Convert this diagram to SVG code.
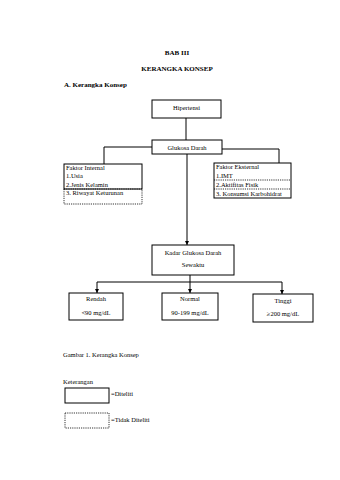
<svg xmlns="http://www.w3.org/2000/svg" width="340" height="480" viewBox="0 0 340 480">
<style>
text{font-family:"Liberation Serif","Times New Roman",serif;fill:#000}
.t{font-size:6.5px}
.c{text-anchor:middle}
.h{font-size:7px;font-weight:bold}
.box{fill:#fff;stroke:#000;stroke-width:1}
.dash{fill:none;stroke:#000;stroke-width:0.8;stroke-dasharray:1.2 1}
.ln{fill:none;stroke:#000;stroke-width:1}
</style>
<defs>
<marker id="ah" viewBox="0 0 6 6" refX="6" refY="3" markerWidth="4" markerHeight="4" orient="auto"><path d="M0,0L6,3L0,6z" fill="#000"/></marker>
</defs>
<rect width="340" height="480" fill="#fff"/>
<text class="h c" x="177" y="55">BAB III</text>
<text class="h c" x="177" y="71">KERANGKA KONSEP</text>
<text class="h" x="64" y="87">A. Kerangka Konsep</text>

<g id="connectors">
<line class="ln" x1="186" y1="118" x2="186" y2="140"/>
<polyline class="ln" points="152,147 104,147 104,164"/>
<polyline class="ln" points="222,149 279,149 279,163"/>
<line class="ln" x1="187" y1="154" x2="187" y2="245" marker-end="url(#ah)"/>
<line class="ln" x1="190" y1="275" x2="190" y2="293" marker-end="url(#ah)"/>
<line class="ln" x1="97" y1="282" x2="282" y2="282"/>
<line class="ln" x1="97" y1="282" x2="97" y2="293" marker-end="url(#ah)"/>
<line class="ln" x1="282" y1="282" x2="282" y2="294" marker-end="url(#ah)"/>
</g>

<g id="hipertensi">
<rect class="box" x="152" y="100" width="69" height="18"/>
<text class="t c" x="186.5" y="110">Hipertensi</text>
</g>
<g id="glukosa">
<rect class="box" x="152" y="140" width="70" height="14"/>
<text class="t c" x="187" y="149.5">Glukosa Darah</text>
</g>
<g id="faktor-internal">
<rect class="box" x="64" y="164" width="78" height="25"/>
<rect class="dash" x="64" y="189" width="78" height="15"/>
<text class="t" x="66" y="170">Faktor Internal</text>
<text class="t" x="66" y="178">1.Usia</text>
<text class="t" x="66" y="186.5">2.Jenis Kelamin</text>
<text class="t" x="66" y="195">3. Riwayat Keturunan</text>
</g>
<g id="faktor-eksternal">
<rect class="box" x="214" y="163" width="77" height="35"/>
<line class="dash" x1="214" y1="180" x2="291" y2="180"/>
<line class="dash" x1="214" y1="189" x2="291" y2="189"/>
<text class="t" x="216" y="169">Faktor Eksternal</text>
<text class="t" x="216" y="177.5">1.IMT</text>
<text class="t" x="216" y="186.5">2.Aktifitas Fisik</text>
<text class="t" x="216" y="195.5">3. Konsumsi Karbohidrat</text>
</g>
<g id="kadar">
<rect class="box" x="152" y="245" width="82" height="30"/>
<text class="t c" x="193" y="255">Kadar Glukosa Darah</text>
<text class="t c" x="193" y="267">Sewaktu</text>
</g>
<g id="rendah">
<rect class="box" x="69" y="293" width="54" height="27"/>
<text class="t c" x="96" y="301">Rendah</text>
<text class="t c" x="96" y="315">&lt;90 mg/dL</text>
</g>
<g id="normal">
<rect class="box" x="162" y="293" width="56" height="27"/>
<text class="t c" x="190" y="301">Normal</text>
<text class="t c" x="190" y="315">90-199 mg/dL</text>
</g>
<g id="tinggi">
<rect class="box" x="253" y="294" width="60" height="28"/>
<text class="t c" x="283" y="303">Tinggi</text>
<text class="t c" x="283" y="316">≥200 mg/dL</text>
</g>

<text class="t" x="63" y="357">Gambar 1. Kerangka Konsep</text>
<text class="t" x="63" y="384">Keterangan</text>
<g id="legend-diteliti">
<rect class="box" x="65" y="388" width="44" height="15"/>
<text class="t" x="111" y="396">=Diteliti</text>
</g>
<g id="legend-tidak">
<rect class="dash" x="65" y="413" width="44" height="15"/>
<text class="t" x="111" y="422">=Tidak Diteliti</text>
</g>
</svg>
